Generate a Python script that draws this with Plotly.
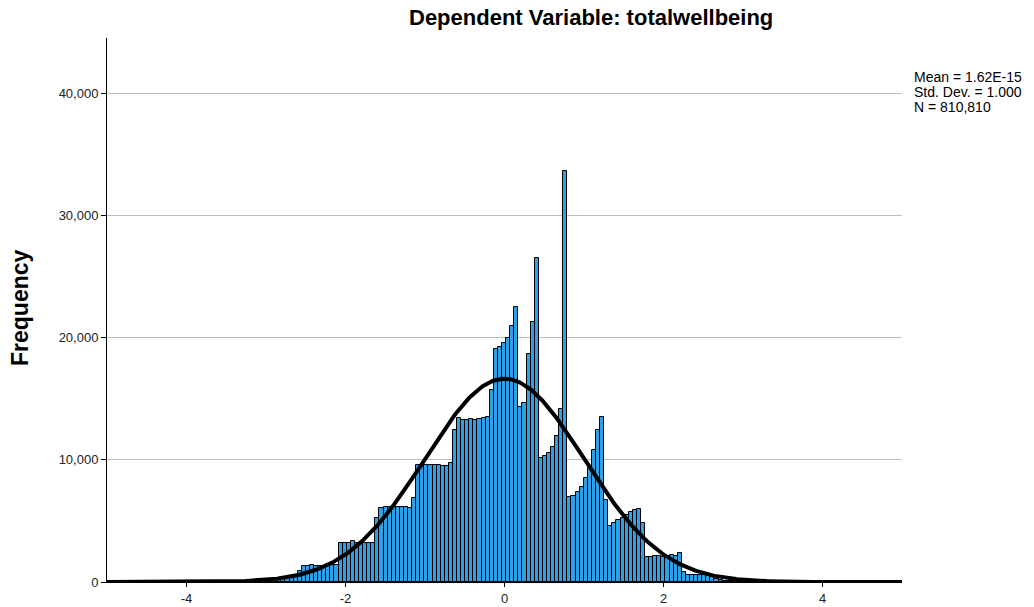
import numpy as np
import plotly.graph_objects as go

# ---- data ----
bin_start = -3.321      # left edge of first bin (standardized residual units)
bin_width = 0.0514
counts = [
    20, 30, 40, 60, 80, 110, 150, 190,
    220, 250, 280, 310, 340, 400,
    900,
    1340, 1350, 1360, 1350, 1340, 1350, 1360, 1370, 1380,
    3170, 3170, 3180, 3330, 3170, 3170, 3160, 3170, 3170,
    5210, 6030,
    6160, 6170, 6150, 6160, 6170, 6160,
    6050, 6900,
    9550, 9550, 9560, 9550, 9550, 9540, 9520,
    9510, 9700, 12430,
    13390, 13250, 13240, 13370, 13220, 13370, 13390,
    13520, 15700,
    19030, 19250, 19520, 19930, 20940, 22520,
    14340, 14620, 18650, 21290, 26480,
    10170, 10310, 10530, 11080, 11950, 14130, 33650,
    6930, 7040, 7390, 7750, 8490, 9310, 10800, 12430, 13520,
    6710,
    4600, 4850, 5050, 5250, 5450, 5700, 5900, 6000,
    4850,
    2020, 2020, 2130, 2130, 2050, 2130, 2170, 2150, 2350,
    790,
    550, 550, 550, 550, 550, 530,
    380, 270, 160, 100, 70, 45, 30, 20, 12, 8, 5,
]
mean_val = 1.62e-15
std_val = 1.000
n_val = 810810
title_text = "Dependent Variable: totalwellbeing"
legend_lines = ["Mean = 1.62E-15", "Std. Dev. = 1.000", "N = 810,810"]
x_ticks = [-4, -2, 0, 2, 4]
y_ticks = [0, 10000, 20000, 30000, 40000]
y_ticklabels = ["0", "10,000", "20,000", "30,000", "40,000"]

# ---- build ----
centers = [bin_start + (i + 0.5) * bin_width for i in range(len(counts))]

xc = np.linspace(-5, 5, 600)
yc = n_val * bin_width * np.exp(-0.5 * ((xc - mean_val) / std_val) ** 2) / (std_val * np.sqrt(2 * np.pi))

FONT = "Liberation Sans, Arial, sans-serif"

fig = go.Figure()
fig.add_trace(go.Bar(
    x=centers, y=counts, width=bin_width,
    marker=dict(color="#2f9fe8", line=dict(color="black", width=1)),
    hoverinfo="x+y", showlegend=False,
))
fig.add_trace(go.Scatter(
    x=xc, y=yc, mode="lines",
    line=dict(color="black", width=4),
    hoverinfo="skip", showlegend=False,
))

fig.update_layout(
    width=1034, height=607,
    margin=dict(l=107, r=132, t=38, b=25, autoexpand=False),
    paper_bgcolor="white", plot_bgcolor="white",
    bargap=0,
    font=dict(family=FONT, size=13, color="#222"),
    xaxis=dict(
        range=[-5, 5], tickvals=x_ticks, ticktext=[str(v) for v in x_ticks],
        showgrid=False, zeroline=False, automargin=False,
        showline=True, linecolor="black", linewidth=1,
        ticks="outside", ticklen=4, tickcolor="black",
        tickfont=dict(size=13, color="#222"),
    ),
    yaxis=dict(
        range=[0, 44500], tickvals=y_ticks, ticktext=y_ticklabels,
        showgrid=True, gridcolor="#bdbdbd", gridwidth=1, zeroline=False,
        automargin=False,
        showline=True, linecolor="black", linewidth=1,
        ticks="outside", ticklen=5, tickcolor="black",
        tickfont=dict(size=13, color="#222"),
    ),
)

annotations = [
    dict(text="<b>" + title_text + "</b>", x=(591 - 107) / 795, y=(582 - 18) / 544,
         xref="paper", yref="paper", xanchor="center", yanchor="middle",
         showarrow=False, font=dict(size=22, color="black", family=FONT)),
    dict(text="<b>Frequency</b>", x=(20 - 107) / 795, y=(582 - 308) / 544,
         xref="paper", yref="paper", xanchor="center", yanchor="middle",
         textangle=-90, showarrow=False, font=dict(size=23, color="black", family=FONT)),
]
for i, line in enumerate(legend_lines):
    py = 77 + 15 * i
    annotations.append(dict(
        text=line, x=(912 - 107) / 795, y=(582 - py) / 544,
        xref="paper", yref="paper", xanchor="left", yanchor="middle",
        showarrow=False, font=dict(size=14, color="black", family=FONT)))
fig.update_layout(annotations=annotations)

fig.write_html("out.html", config={"displayModeBar": False},
               post_script="document.body.style.margin='0';")
